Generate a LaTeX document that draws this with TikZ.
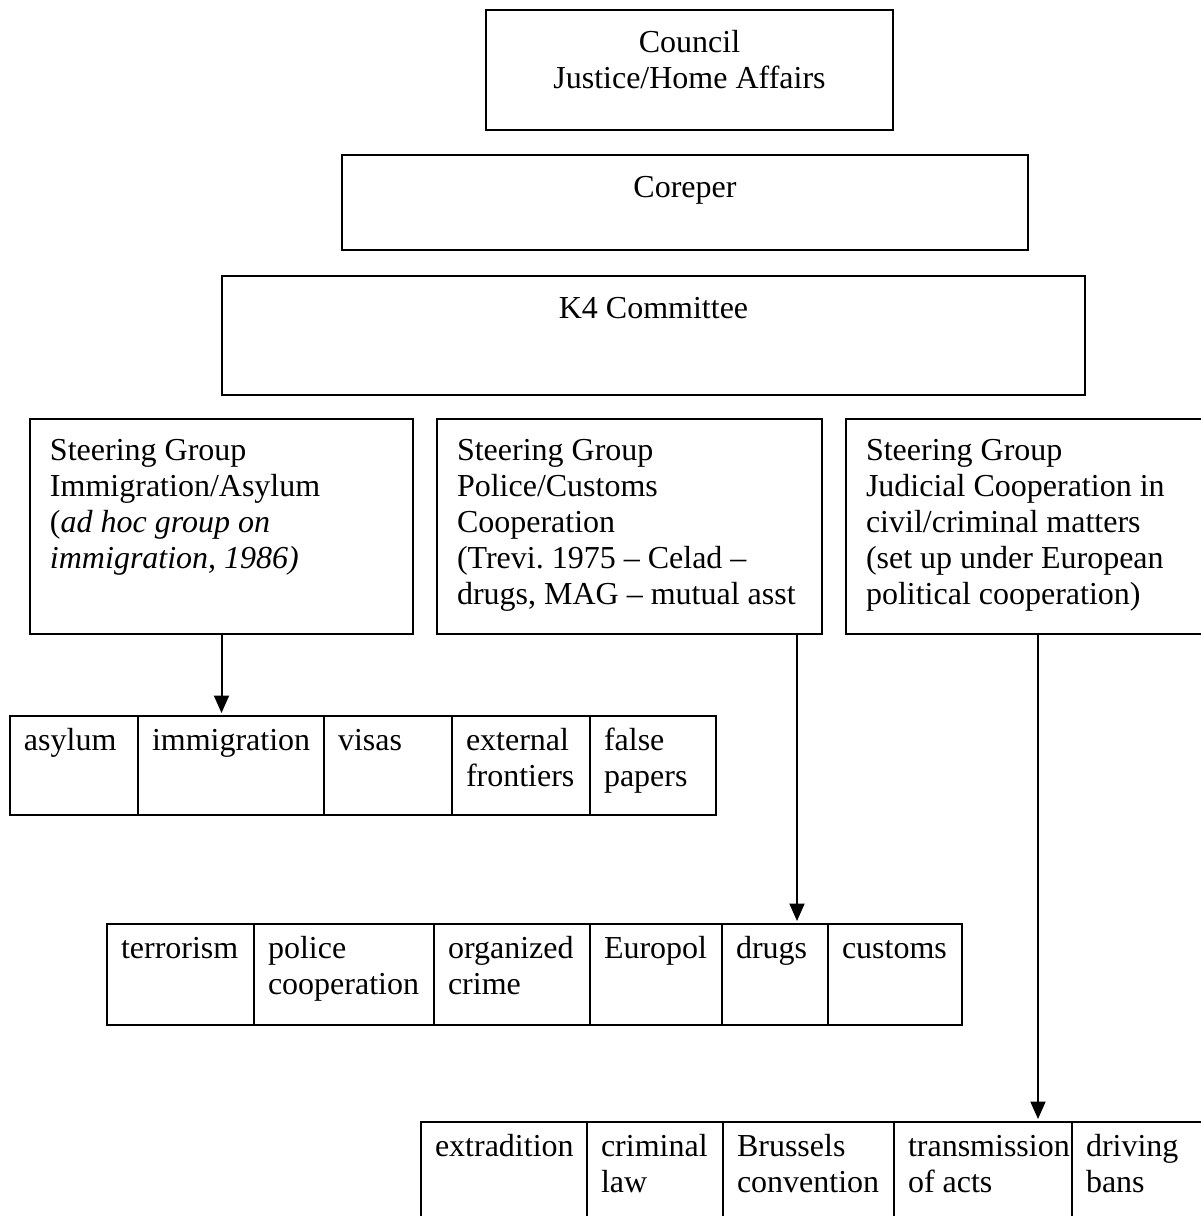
\documentclass[tikz,border=0pt]{standalone}
\usepackage{fontspec}
\setmainfont{Liberation Serif}
\usetikzlibrary{arrows.meta}
\frenchspacing

\newdimen\pxl \pxl=0.4pt
% box contents: width, height, first baseline (all in px), text
\newcommand{\ctext}[4]{\parbox[c][#2\pxl][t]{#1\pxl}{\centering\hyphenpenalty=10000\rule{0pt}{#3\pxl}#4}}
\newcommand{\ltext}[5][14]{\parbox[c][#3\pxl][t]{#2\pxl}{\raggedright\leftskip=#1\pxl\hyphenpenalty=10000\rule{0pt}{#4\pxl}#5}}

\begin{document}
\begin{tikzpicture}[x=0.4pt, y=-0.4pt, font=\fontsize{12.8pt}{14.4pt}\selectfont]
\tikzset{ >={Triangle[width=6pt, length=7pt]},
  box/.style={draw, line width=0.8pt, inner sep=0pt, outer sep=0pt, anchor=north west},
  arr/.style={->, line width=0.8pt, shorten >=1.2pt} }

\useasboundingbox (0,0) rectangle (1201,1216);

\node [box] (council) at (486,10)  {\ctext{407}{120}{42}{Council\\Justice/Home Affairs}};
\node [box] (coreper) at (342,155) {\ctext{686}{95}{42}{Coreper}};
\node [box] (k4)      at (222,276) {\ctext{863}{119}{42}{K4 Committee}};

% steering groups
\node [box] (sg1) at (30,419)  {\ltext[20]{383}{215}{41}{Steering Group\\Immigration/Asylum\\(\textit{ad hoc group on}\\\textit{immigration, 1986)}}};
\node [box] (sg2) at (437,419) {\ltext[20]{385}{215}{41}{Steering Group\\Police/Customs\\Cooperation\\(Trevi. 1975 – Celad –\\drugs, MAG – mutual asst}};
\node [box] (sg3) at (846,419) {\ltext[20]{370}{215}{41}{Steering Group\\Judicial Cooperation in\\civil/criminal matters\\(set up under European\\political cooperation)}};

% immigration/asylum
\node [box] (asylum)      at (10,716)  {\ltext{128}{99}{34}{asylum}};
\node [box] (immigration) at (138,716) {\ltext{186}{99}{34}{immigration}};
\node [box] (visas)       at (324,716) {\ltext{128}{99}{34}{visas}};
\node [box] (frontiers)   at (452,716) {\ltext{138}{99}{34}{external\\frontiers}};
\node [box] (papers)      at (590,716) {\ltext{126}{99}{34}{false\\papers}};

% police/customs
\node [box] (terrorism) at (107,924) {\ltext{147}{101}{34}{terrorism}};
\node [box] (police)    at (254,924) {\ltext{180}{101}{34}{police\\cooperation}};
\node [box] (crime)     at (434,924) {\ltext{156}{101}{34}{organized\\crime}};
\node [box] (europol)   at (590,924) {\ltext{132}{101}{34}{Europol}};
\node [box] (drugs)     at (722,924) {\ltext{106}{101}{34}{drugs}};
\node [box] (customs)   at (828,924) {\ltext{134}{101}{34}{customs}};

% judicial cooperation
\node [box] (extradition)  at (421,1122)  {\ltext{166}{120}{34}{extradition}};
\node [box] (criminal)     at (587,1122)  {\ltext{136}{120}{34}{criminal\\law}};
\node [box] (brussels)     at (723,1122)  {\ltext{171}{120}{34}{Brussels\\convention}};
\node [box] (transmission) at (894,1122)  {\ltext{178}{120}{34}{transmission\\of acts}};
\node [box] (bans)         at (1072,1122) {\ltext{160}{120}{34}{driving\\bans}};

\coordinate (a2) at ([xshift=-10pt]sg2.south east);
\coordinate (a3) at ([xshift=76.8pt]sg3.south west);

\draw [arr] (sg1.south) -- (sg1.south |- immigration.north);
\draw [arr] (a2) -- (a2 |- drugs.north);
\draw [arr] (a3) -- (a3 |- transmission.north);

\end{tikzpicture}
\end{document}
